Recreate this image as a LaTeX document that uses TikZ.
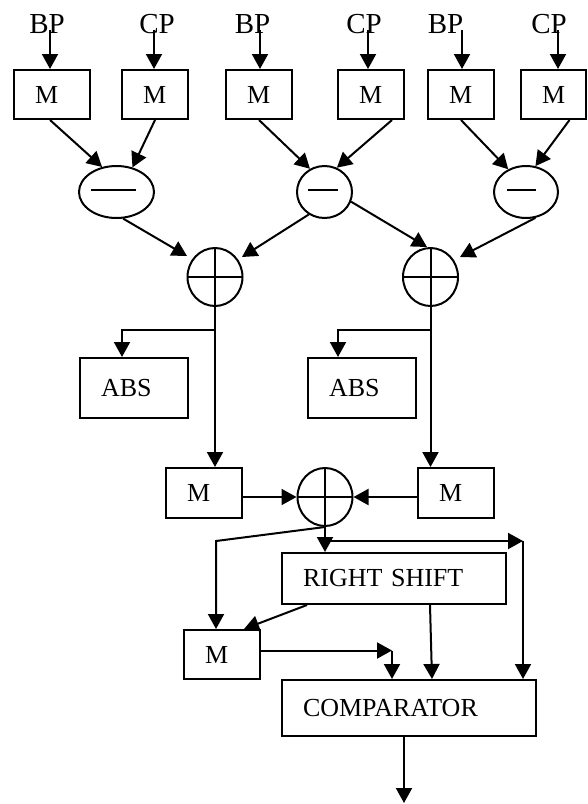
\documentclass[tikz,border=0pt]{standalone}
\usepackage{fontspec}
\setmainfont{Liberation Serif}
\usetikzlibrary{arrows.meta,calc,shapes.geometric}
\begin{document}
\begin{tikzpicture}[x=1pt,y=-1pt,
  line width=2pt,
  arr/.style={-{Triangle[length=15pt,width=16pt]}},
  blk/.style={draw,rectangle,inner xsep=21pt,inner ysep=0pt,align=left,font=\fontsize{26}{30}\selectfont},
  lbl/.style={anchor=base,inner sep=0pt,font=\fontsize{29}{34}\selectfont},
  minus/.style={draw,ellipse,inner sep=0pt,minimum height=52pt},
  plus/.style={draw,ellipse,inner sep=0pt,minimum width=55pt,minimum height=58pt,
    path picture={\draw (path picture bounding box.north)--(path picture bounding box.south)
                        (path picture bounding box.west)--(path picture bounding box.east);}}]
\useasboundingbox (0,0) rectangle (587,804);

% input labels
\node[lbl] (bp1) at (47,33) {BP};
\node[lbl] (cp1) at (157,33) {CP};
\node[lbl] (bp2) at (252.5,33) {BP};
\node[lbl] (cp2) at (364,33) {CP};
\node[lbl] (bp3) at (445.5,33) {BP};
\node[lbl] (cp3) at (549,33) {CP};

% top M boxes
\node[blk,minimum height=49pt,text width=34pt] (m1) at (52,94.5) {M};
\node[blk,minimum height=49pt,text width=24pt] (m2) at (155,94.5) {M};
\node[blk,minimum height=49pt,text width=24pt] (m3) at (259,94.5) {M};
\node[blk,minimum height=49pt,text width=24pt] (m4) at (371,94.5) {M};
\node[blk,minimum height=49pt,text width=24pt] (m5) at (461,94.5) {M};
\node[blk,minimum height=49pt,text width=23pt] (m6) at (553.5,94.5) {M};

% input arrow starts
\coordinate (a1) at (50,30);
\coordinate (a2) at (154,30);
\coordinate (a3) at (260,30);
\coordinate (a4) at (368,30);
\coordinate (a5) at (462,30);
\coordinate (a6) at (558,30);
\draw[arr] (a1) -- (a1 |- m1.north);
\draw[arr] (a2) -- (a2 |- m2.north);
\draw[arr] (a3) -- (a3 |- m3.north);
\draw[arr] (a4) -- (a4 |- m4.north);
\draw[arr] (a5) -- (a5 |- m5.north);
\draw[arr] (a6) -- (a6 |- m6.north);

% subtractors
\node[minus,minimum width=75pt] (e1) at (116.5,192) {};
\node[minus,minimum width=55pt] (e2) at (324.5,192) {};
\node[minus,minimum width=64pt] (e3) at (526,192) {};
\draw ($(e1.center)+(-25.5,-2)$) -- ($(e1.center)+(19.5,-2)$);
\draw ($(e2.center)+(-16.5,-2)$) -- ($(e2.center)+(13.5,-2)$);
\draw ($(e3.center)+(-19,-2)$) -- ($(e3.center)+(10,-2)$);

\draw[arr] ($(m1.south)+(-2,0)$) -- (e1.120);
\draw[arr] (m2.south) -- (e1.57);
\draw[arr] (m3.south) -- (e2.122);
\draw[arr] ($(m4.south)+(21,0)$) -- (e2.63);
\draw[arr] (m5.south) -- (e3.128);
\draw[arr] ($(m6.south)+(16,0)$) -- (e3.70);

% adders
\node[plus] (c1) at (215,277) {};
\node[plus] (c2) at (430.5,277) {};
\draw[arr] (e1.-76) -- ($(c1.center)+(-28,-21)$);
\draw[arr] (e2.235) -- ($(c1.center)+(27,-20)$);
\draw[arr] (e2.-20) -- ($(c2.center)+(-3.5,-30)$);
\draw[arr] (e3.-70) -- ($(c2.center)+(29.5,-20)$);

% ABS boxes
\node[blk,minimum height=60pt,text width=66pt] (abs1) at (134,388) {ABS};
\node[blk,minimum height=60pt,text width=66pt] (abs2) at (362,388) {ABS};

% lower M boxes
\node[blk,minimum height=50pt,text width=34pt] (ml) at (204,493) {M};
\node[blk,minimum height=50pt,text width=34pt] (mr) at (456,493) {M};

\coordinate (b1) at ($(c1.south)+(0,23)$);
\coordinate (b2) at ($(c2.south)+(0,23)$);
\coordinate (t1) at ($(abs1.north)+(-12,0)$);
\coordinate (t2) at ($(abs2.north)+(-24,0)$);
\draw[arr] (c1.south) -- (c1.south |- ml.north);
\draw[arr] (c2.south) -- (c2.south |- mr.north);
\draw[arr] (b1) -| (t1);
\draw[arr] (b2) -| (t2);

% final adder
\node[plus] (c3) at (325,497) {};
\draw[arr] (ml.east |- c3.west) -- (c3.west);
\draw[arr] (mr.west |- c3.east) -- (c3.east);

% right shift, M, comparator
\node[blk,minimum height=51pt,text width=182pt] (rs) at (394,578.5) {RIGHT SHIFT};
\node[blk,minimum height=49pt,text width=34pt] (m7) at (222,654.5) {M};
\node[blk,minimum height=56pt,text width=212pt] (cmp) at (409,708) {COMPARATOR};

\coordinate (j) at ($(c3.south)+(0,14)$);
\coordinate (rc) at ($(cmp.north east)+(-14,0)$);
\coordinate (m7a) at ($(m7.north)+(-6,0)$);
\coordinate (m7e) at ($(m7.east)+(0,-4)$);
\coordinate (mk) at ($(cmp.north)+(-17,0)$);
\coordinate (out) at ($(cmp.south)+(-5,66)$);

\draw[arr] (c3.south) -- (c3.south |- rs.north);
\draw[arr] (j) -- (j -| rc);
\draw[arr] (j -| rc) -- (rc);
\draw[arr] (c3.south) -- (m7a |- j) -- (m7a);
\draw[arr] ($(rs.south west)+(26,0)$) -- ($(m7.north east)+(-17,0)$);
\draw[arr] ($(rs.south)+(36,0)$) -- ($(cmp.north)+(23,0)$);
\draw[arr] (m7e) -- (m7e -| mk);
\draw[arr] (m7e -| mk) -- (mk);
\draw[arr] ($(cmp.south)+(-5,0)$) -- (out);
\end{tikzpicture}
\end{document}
